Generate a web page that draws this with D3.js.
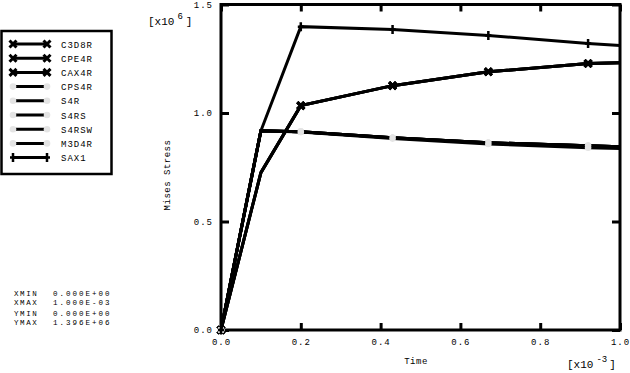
<!DOCTYPE html>
<html lang="en">
<head>
  <meta charset="UTF-8">
  <title>Mises Stress</title>
  <script src="https://d3js.org/d3.v7.min.js"></script>
  <style>
    body { margin: 0; background: #fff; }
    text { font-family: "Liberation Mono", "DejaVu Sans Mono", monospace; fill: #000; }
  </style>
</head>
<body>
  <div id="my_dataviz"></div>
  <script>

    // data (time in 1e-3, stress in 1e6)
    var timeVals  = [0, 0.1, 0.2, 0.43, 0.67, 0.92, 1.0];
    var solidVals = [0, 0.725, 1.034, 1.126, 1.19, 1.228, 1.232];
    var shellVals = [0, 0.918, 0.914, 0.886, 0.863, 0.849, 0.845];
    var membVals  = [0, 0.918, 0.912, 0.882, 0.857, 0.840, 0.836];
    var saxVals   = [0, 0.918, 1.398, 1.385, 1.357, 1.320, 1.311];

    var seriesNames = ["C3D8R", "CPE4R", "CAX4R", "CPS4R", "S4R", "S4RS", "S4RSW", "M3D4R", "SAX1"];
    var seriesVals  = [solidVals, solidVals, solidVals, shellVals, shellVals, shellVals, shellVals, membVals, saxVals];
    var seriesMark  = ["cross", "cross", "cross", "dot", "dot", "dot", "dot", "dot", "plus"];
    var markIdx = [0, 2, 3, 4, 5];

    var xTicks = [0, 0.2, 0.4, 0.6, 0.8, 1.0];
    var yTicks = [0, 0.5, 1.0, 1.5];
    var infoLabels = ["XMIN", "XMAX", "YMIN", "YMAX"];
    var infoValues = ["0.000E+00", "1.000E-03", "0.000E+00", "1.396E+06"];

    var W = 630, H = 373;
    var svg = d3.select("#my_dataviz")
      .append("svg")
      .attr("width", W)
      .attr("height", H);

    var x = d3.scaleLinear().domain([0, 1]).range([221, 620]);
    var y = d3.scaleLinear().domain([0, 1.5]).range([330, 4.5]);

    // axes with inward ticks
    function styleAxis(g) {
      g.select(".domain").remove();
      g.attr("font-family", "Liberation Mono, monospace").attr("font-size", 9);
      g.selectAll(".tick line").attr("stroke", "#000").attr("stroke-width", 3);
      g.selectAll(".tick text").style("letter-spacing", "1px");
    }
    svg.append("g")
      .attr("transform", "translate(0," + y(0) + ")")
      .call(d3.axisBottom(x).tickValues(xTicks).tickSize(-7).tickPadding(9).tickFormat(d3.format(".1f")))
      .call(styleAxis);
    svg.append("g")
      .attr("transform", "translate(0," + y(1.5) + ")")
      .call(d3.axisTop(x).tickValues(xTicks).tickSize(-7).tickFormat(""))
      .call(styleAxis);
    svg.append("g")
      .attr("transform", "translate(" + x(0) + ",0)")
      .call(d3.axisLeft(y).tickValues(yTicks).tickSize(-8).tickPadding(8).tickFormat(d3.format(".1f")))
      .call(styleAxis);
    svg.append("g")
      .attr("transform", "translate(" + x(1) + ",0)")
      .call(d3.axisRight(y).tickValues(yTicks).tickSize(-8).tickFormat(""))
      .call(styleAxis);

    // frame
    svg.append("rect")
      .attr("x", x(0)).attr("y", y(1.5))
      .attr("width", x(1) - x(0)).attr("height", y(0) - y(1.5))
      .attr("fill", "none").attr("stroke", "#000").attr("stroke-width", 3);

    // markers
    function drawMarker(g, kind, cx, cy) {
      if (kind == "cross") {
        g.append("path")
          .attr("d", "M" + (cx - 3.5) + "," + (cy - 3.5) + "L" + (cx + 3.5) + "," + (cy + 3.5) +
                     "M" + (cx - 3.5) + "," + (cy + 3.5) + "L" + (cx + 3.5) + "," + (cy - 3.5))
          .attr("stroke", "#000").attr("stroke-width", 3);
      } else if (kind == "plus") {
        g.append("path")
          .attr("d", "M" + cx + "," + (cy - 4.5) + "L" + cx + "," + (cy + 4.5) +
                     "M" + (cx - 3) + "," + cy + "L" + (cx + 3) + "," + cy)
          .attr("stroke", "#000").attr("stroke-width", 2.5);
      } else {
        g.append("circle").attr("cx", cx).attr("cy", cy).attr("r", 3.3).attr("fill", "#e4e4e4");
      }
    }

    var line = d3.line()
      .x(function (d, i) { return x(timeVals[i]); })
      .y(function (d) { return y(d); });

    var plot = svg.append("g");
    seriesNames.forEach(function (name, s) {
      var vals = seriesVals[s];
      plot.append("path")
        .datum(vals)
        .attr("d", line)
        .attr("fill", "none")
        .attr("stroke", "#000")
        .attr("stroke-width", 3)
        .attr("stroke-linejoin", "miter");
      markIdx.forEach(function (i) {
        drawMarker(plot, seriesMark[s], x(timeVals[i]), y(vals[i]));
      });
    });

    // legend
    var leg = svg.append("g");
    leg.append("rect")
      .attr("x", 1.5).attr("y", 31)
      .attr("width", 110).attr("height", 143)
      .attr("fill", "#fff").attr("stroke", "#000").attr("stroke-width", 2.5);
    seriesNames.forEach(function (name, s) {
      var ly = 44 + s * 14.2;
      leg.append("line")
        .attr("x1", 13).attr("x2", 47).attr("y1", ly).attr("y2", ly)
        .attr("stroke", "#000").attr("stroke-width", 3);
      drawMarker(leg, seriesMark[s], 13, ly);
      drawMarker(leg, seriesMark[s], 47, ly);
      leg.append("text")
        .attr("x", 61).attr("y", ly + 3.5)
        .attr("font-size", 9)
        .style("letter-spacing", "1px")
        .text(name);
    });

    // min / max block
    var infoY = [296, 305, 316, 325];
    infoLabels.forEach(function (lab, i) {
      svg.append("text").attr("x", 14).attr("y", infoY[i]).attr("font-size", 7.5)
        .style("letter-spacing", "1.6px").text(lab);
      svg.append("text").attr("x", 53).attr("y", infoY[i]).attr("font-size", 7.5)
        .style("letter-spacing", "2px").text(infoValues[i]);
    });

    // axis titles
    svg.append("text")
      .attr("transform", "translate(170,175) rotate(-90)")
      .attr("text-anchor", "middle").attr("font-size", 9)
      .style("letter-spacing", "0.5px")
      .text("Mises Stress");
    svg.append("text")
      .attr("x", 416).attr("y", 364)
      .attr("text-anchor", "middle").attr("font-size", 9)
      .style("letter-spacing", "0.5px")
      .text("Time");

    // exponent labels
    var e1 = svg.append("text").attr("x", 148).attr("y", 25).attr("font-size", 11);
    e1.append("tspan").text("[x10");
    e1.append("tspan").attr("dx", 3).attr("dy", -6).attr("font-size", 9).text("6");
    e1.append("tspan").attr("dx", 3).attr("dy", 6).text("]");

    var e2 = svg.append("text").attr("x", 567).attr("y", 368).attr("font-size", 11);
    e2.append("tspan").text("[x10");
    e2.append("tspan").attr("dx", 3).attr("dy", -6).attr("font-size", 9).text("-3");
    e2.append("tspan").attr("dx", 2).attr("dy", 6).text("]");

  </script>
</body>
</html>
